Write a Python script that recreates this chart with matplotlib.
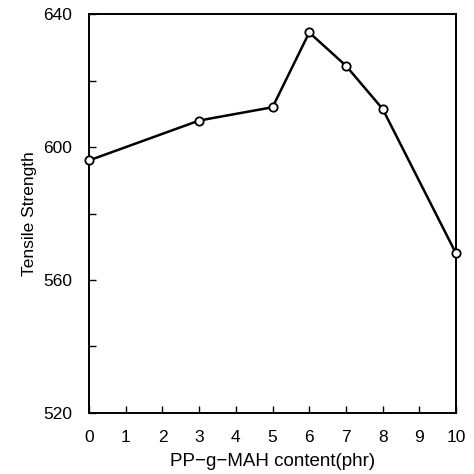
import matplotlib
matplotlib.use('Agg')
import matplotlib.pyplot as plt
from matplotlib.ticker import MultipleLocator

# PP-g-MAH content (phr) vs tensile strength
content = [0, 3, 5, 6, 7, 8, 10]
strength = [596, 608, 612, 634.5, 624.5, 611.5, 568]

plt.rcParams['font.family'] = ['Liberation Sans', 'DejaVu Sans']

fig = plt.figure(figsize=(4.74, 4.74), dpi=100)
ax = fig.add_axes([0.188, 0.129, 0.774, 0.841])

ax.plot(content, strength, color='black', linewidth=1.8, marker='o',
        markersize=6, markerfacecolor='white', markeredgecolor='black',
        markeredgewidth=1.3, clip_on=False, zorder=3)

ax.set_xlim(0, 10)
ax.set_ylim(520, 640)
ax.xaxis.set_major_locator(MultipleLocator(1))
ax.yaxis.set_major_locator(MultipleLocator(40))
ax.yaxis.set_minor_locator(MultipleLocator(20))

ax.tick_params(axis='both', which='both', direction='in', length=5,
               width=1.0, labelsize=12.5, top=False, right=False)
ax.tick_params(axis='x', pad=12)
ax.tick_params(axis='y', pad=12)

for sp in ax.spines.values():
    sp.set_linewidth(1.4)

ax.set_xlabel('PP\u2212g\u2212MAH content(phr)', fontsize=13.5, labelpad=6)
ax.set_ylabel('Tensile Strength', fontsize=12.5, labelpad=5)

fig.savefig('out.png', dpi=100)
